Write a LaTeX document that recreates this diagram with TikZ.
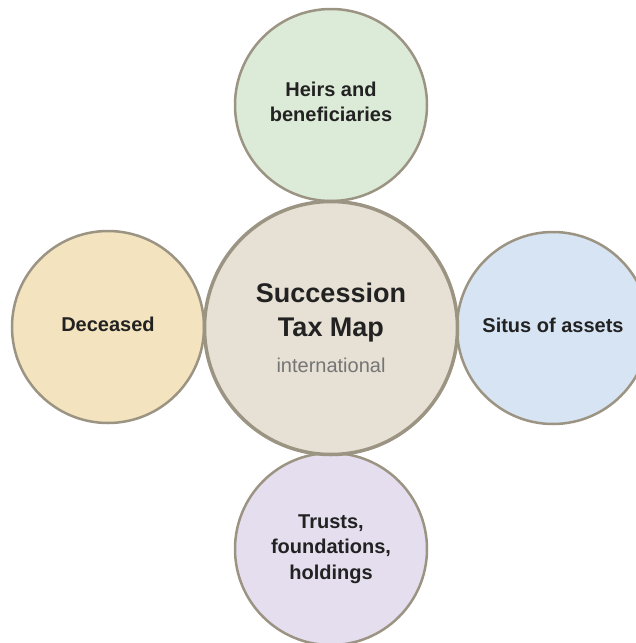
\documentclass[tikz,border=0pt]{standalone}
\usepackage{fontspec}
\setmainfont{Liberation Sans}
\definecolor{rim}{HTML}{9C9483}
\definecolor{ink}{HTML}{222222}
\definecolor{subgray}{HTML}{757575}
\definecolor{hubfill}{HTML}{E6E0D5}
\definecolor{heirsfill}{HTML}{DCEAD8}
\definecolor{deceasedfill}{HTML}{F3E3BF}
\definecolor{situsfill}{HTML}{D7E4F3}
\definecolor{trustsfill}{HTML}{E5DEEE}
\begin{document}
\begin{tikzpicture}[x=1pt,y=-1pt,
	spoke/.style={circle,draw=rim,line width=2.5pt,minimum size=192pt,inner sep=0pt,
		align=center,text=ink,text depth=6pt,font=\fontsize{20}{25.5}\selectfont\bfseries},
	hub/.style={circle,draw=rim,fill=hubfill,line width=3.5pt,minimum size=253pt,inner sep=0pt,
		align=center,text=ink,font=\fontsize{27}{34}\selectfont\bfseries}]
\useasboundingbox (0,0) rectangle (636,643);
\node[spoke,fill=heirsfill] (heirs) at (331,105) {Heirs and\\beneficiaries};
\node[spoke,fill=deceasedfill] (deceased) at (108,327) {Deceased};
\node[spoke,fill=situsfill] (situs) at (553,328) {Situs of assets};
\node[spoke,fill=trustsfill,text depth=4pt] (trusts) at (331,549) {Trusts,\\foundations,\\holdings};
\node[hub] (hub) at (331,328) {Succession\\Tax Map\\[2pt]{\mdseries\fontsize{20}{24}\selectfont\color{subgray}international}};
\end{tikzpicture}
\end{document}
